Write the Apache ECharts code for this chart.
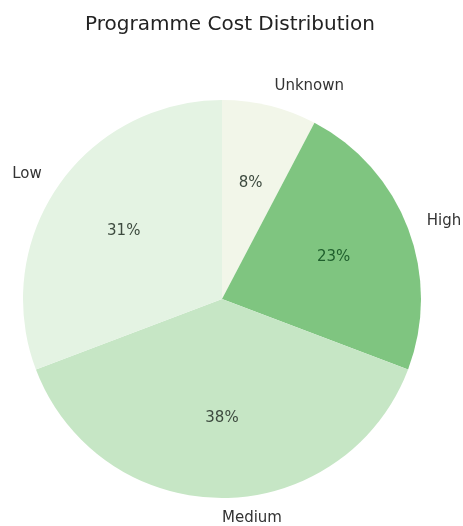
<!DOCTYPE html>
<html>
<head>
<meta charset="utf-8">
<script src="https://cdn.jsdelivr.net/npm/echarts@6/dist/echarts.min.js"></script>
<style>
  html, body { margin: 0; padding: 0; background: #fff; }
  #chart { width: 463px; height: 526px; }
</style>
</head>
<body>
<div id="chart"></div>
<script>
// 数据
const categories = ['Unknown', 'High', 'Medium', 'Low'];
const counts = [1, 3, 5, 4];
const sliceColors = ['#f2f6e9', '#7fc580', '#c6e6c5', '#e4f3e3'];
const pctColors = ['#3d4a3f', '#1f5f2c', '#3d4a3f', '#3d4a3f'];

const chart = echarts.init(document.getElementById('chart'));

const center = [222, 299];
const R = 199;

const option = {
  animation: false,
  title: {
    text: 'Programme Cost Distribution',
    left: 80,
    top: 10,
    textStyle: { fontFamily: 'DejaVu Sans', fontSize: 20, fontWeight: 'normal', color: '#222' }
  },
  series: [
    {
      // 扇形 + 外侧名称
      type: 'pie',
      center: center,
      radius: [0, R],
      startAngle: 90,
      clockwise: true,
      avoidLabelOverlap: false,
      emphasis: { scale: false },
      itemStyle: { borderWidth: 0 },
      label: {
        show: true,
        position: 'outside',
        distanceToLabelLine: 0,
        fontFamily: 'DejaVu Sans',
        fontSize: 15,
        color: '#333',
        formatter: '{b}'
      },
      labelLine: { show: false, length: 20, length2: 0 },
      data: categories.map((c, i) => ({
        name: c,
        value: counts[i],
        itemStyle: { color: sliceColors[i] }
      }))
    },
    {
      // 百分比标签（透明扇形，半径让标签落在 0.6R）
      type: 'pie',
      center: center,
      radius: [0, (0.6 * R - 3) * 2],
      startAngle: 90,
      clockwise: true,
      silent: true,
      avoidLabelOverlap: false,
      emphasis: { scale: false },
      itemStyle: { color: 'rgba(0,0,0,0)', borderWidth: 0 },
      label: {
        show: true,
        position: 'inside',
        fontFamily: 'DejaVu Sans',
        fontSize: 15,
        formatter: (p) => Math.round(p.percent) + '%'
      },
      labelLine: { show: false },
      data: categories.map((c, i) => ({
        name: c,
        value: counts[i],
        label: { color: pctColors[i] }
      }))
    }
  ]
};

chart.setOption(option);
</script>
</body>
</html>
